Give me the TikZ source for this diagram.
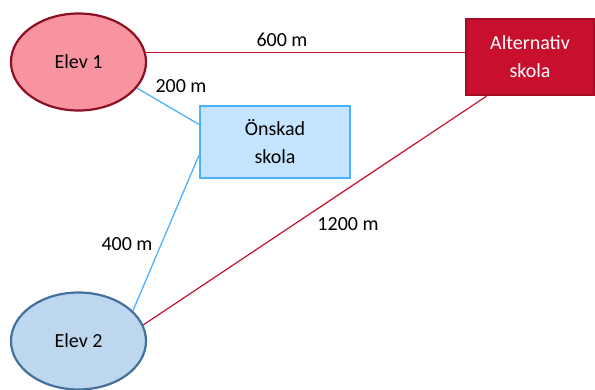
\documentclass[tikz,border=0pt]{standalone}
\usepackage{fontspec}
\setmainfont{Carlito}
\usetikzlibrary{shapes.geometric}
\definecolor{eonefill}{RGB}{247,148,160}
\definecolor{eonedraw}{RGB}{140,15,35}
\definecolor{etwofill}{RGB}{189,215,238}
\definecolor{etwodraw}{RGB}{65,113,156}
\definecolor{onfill}{RGB}{197,228,255}
\definecolor{ondraw}{RGB}{77,178,255}
\definecolor{altfill}{RGB}{200,16,46}
\definecolor{altdraw}{RGB}{165,12,36}
\definecolor{redline}{RGB}{200,16,46}
\definecolor{blueline}{RGB}{77,178,255}
\tikzset{
  txt/.style={font=\fontsize{20}{28}\selectfont, align=center, inner sep=0pt},
  elev/.style={ellipse, line width=2.2pt, minimum width=135pt, minimum height=97pt, inner sep=0pt, txt},
  school/.style={rectangle, line width=2.2pt, inner sep=0pt, txt},
  redcon/.style={draw=redline, line width=1.2pt},
  bluecon/.style={draw=blueline, line width=1.3pt},
  dist/.style={txt, text=black}
}
\begin{document}
\begin{tikzpicture}[x=1pt,y=-1pt]
\useasboundingbox (0,0) rectangle (595,389);
\node[elev, fill=eonefill, draw=eonedraw] (e1) at (78.5,62) {Elev 1};
\node[elev, fill=etwofill, draw=etwodraw] (e2) at (78.5,341) {Elev 2};
\node[school, fill=onfill, draw=ondraw, minimum width=150pt, minimum height=72pt] (on) at (275,142) {Önskad\\skola};
\node[school, fill=altfill, draw=altdraw, text=white, minimum width=128pt, minimum height=76pt] (alt) at (530,57) {Alternativ\\skola};
\coordinate (a1) at (e1.8.6);
\draw[redcon] (a1) -- (a1 -| alt.west);
\draw[bluecon] (e1.-24) -- (on.167);
\draw[bluecon] (on.190.4) -- (e2.29.9);
\draw[redcon] (alt.222) -- (e2.14.7);
\node[dist] (l600) at (282,40) {600 m};
\node[dist] (l200) at (181,86) {200 m};
\node[dist] (l400) at (127,244) {400 m};
\node[dist] (l1200) at (348,224) {1200 m};
\end{tikzpicture}
\end{document}
